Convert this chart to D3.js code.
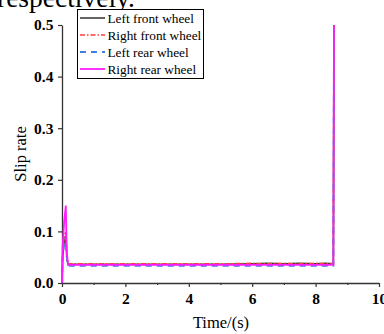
<!DOCTYPE html>
<html>
<head>
<meta charset="utf-8">
<script src="https://cdn.jsdelivr.net/npm/d3@7"></script>
<style>
  body { margin: 0; background: #fff; }
  svg { display: block; font-family: "Liberation Serif", "Times New Roman", serif; }
</style>
</head>
<body>
<div id="chart"></div>
<script>
// time samples (s) shared by all four wheels
const times = [0, 0.02, 0.07, 0.12, 0.15, 0.19, 0.5, 1, 2, 3, 4, 5, 6, 6.5, 7, 7.5, 8, 8.3, 8.56, 8.58];
const leftFront  = [0, 0.05, 0.08, 0.09, 0.05, 0.036, 0.036, 0.036, 0.036, 0.036, 0.036, 0.036, 0.037, 0.038, 0.037, 0.038, 0.037, 0.038, 0.037, 0.5];
const rightFront = [0, 0.06, 0.09, 0.10, 0.06, 0.037, 0.037, 0.037, 0.037, 0.037, 0.037, 0.037, 0.038, 0.037, 0.038, 0.037, 0.038, 0.037, 0.038, 0.5];
const leftRear   = [0, 0.05, 0.08, 0.09, 0.05, 0.033, 0.033, 0.033, 0.033, 0.033, 0.033, 0.033, 0.033, 0.033, 0.033, 0.033, 0.033, 0.033, 0.033, 0.5];
const rightRear  = [0, 0.07, 0.12, 0.15, 0.06, 0.035, 0.035, 0.035, 0.035, 0.035, 0.035, 0.035, 0.035, 0.035, 0.035, 0.035, 0.035, 0.035, 0.035, 0.5];

const seriesNames = ["Left front wheel", "Right front wheel", "Left rear wheel", "Right rear wheel"];
const xTicks = [0, 2, 4, 6, 8, 10];
const xMinorTicks = [1, 3, 5, 7, 9];
const yTicks = [0, 0.1, 0.2, 0.3, 0.4, 0.5];

const styles = [
    {color: '#3d3d3d', dash: null, width: 1.6},
    {color: '#ff3b3b', dash: '5,2,1.5,2', width: 1.6},
    {color: '#3f7fe6', dash: '6,5', width: 1.8},
    {color: '#ff1cff', dash: null, width: 1.8},
];

const width = 384, height = 334;
const svg = d3.select("#chart").append("svg")
    .attr("width", width)
    .attr("height", height);

// piece of the surrounding paper text, cut at the top
svg.append("text")
    .attr("x", -3)
    .attr("y", 7)
    .style("font-size", "27.5px")
    .text("respectively.");

const x = d3.scaleLinear().domain([0, 10]).range([62, 379]);
const y = d3.scaleLinear().domain([0, 0.5]).range([283, 25]);

// axes
const xAxis = svg.append("g")
    .attr("transform", "translate(0," + y(0) + ")")
    .call(d3.axisBottom(x).tickValues(xTicks).tickFormat(d3.format("d")).tickSize(4).tickSizeOuter(0));
xAxis.selectAll(".tick text").attr("dy", "0.9em");

svg.append("g")
    .attr("transform", "translate(0," + y(0) + ")")
    .call(d3.axisBottom(x).tickValues(xMinorTicks).tickFormat("").tickSize(2).tickSizeOuter(0))
    .select(".domain").remove();

const yAxis = svg.append("g")
    .attr("transform", "translate(" + x(0) + ",0)")
    .call(d3.axisLeft(y).tickValues(yTicks).tickFormat(d3.format(".1f")).tickSize(4).tickSizeOuter(0));
yAxis.selectAll(".tick text").attr("dx", "-0.1em");

svg.selectAll(".domain").attr("stroke", "#333").attr("stroke-width", 1.3);
svg.selectAll(".tick line").attr("stroke", "#333").attr("stroke-width", 1.2);
svg.selectAll(".tick text")
    .style("font-family", '"Liberation Serif", serif')
    .style("font-size", "15.5px")
    .style("font-weight", "bold")
    .attr("fill", "#000");

// axis titles
svg.append("text")
    .attr("x", 221)
    .attr("y", 328)
    .attr("text-anchor", "middle")
    .style("font-size", "16.5px")
    .text("Time/(s)");

svg.append("text")
    .attr("transform", "translate(26," + y(0.25) + ") rotate(-90)")
    .attr("text-anchor", "middle")
    .style("font-size", "16.5px")
    .text("Slip rate");

// lines
const allSeries = [leftFront, rightFront, leftRear, rightRear];
const line = d3.line()
    .x((d, i) => x(times[i]))
    .y(d => y(d));

svg.append("g")
    .selectAll("path")
    .data(allSeries)
    .enter()
    .append("path")
    .attr("d", d => line(d))
    .attr("fill", "none")
    .attr("stroke", (d, i) => styles[i].color)
    .attr("stroke-width", (d, i) => styles[i].width)
    .attr("stroke-dasharray", (d, i) => styles[i].dash);

// legend
const legend = svg.append("g");
legend.append("rect")
    .attr("x", 77.5)
    .attr("y", 9.5)
    .attr("width", 126)
    .attr("height", 69)
    .attr("fill", "#fff")
    .attr("stroke", "#000")
    .attr("stroke-width", 1);

const rows = legend.selectAll("g.row")
    .data(seriesNames)
    .enter()
    .append("g")
    .attr("class", "row")
    .attr("transform", (d, i) => "translate(0," + (18 + i * 17) + ")");

rows.append("line")
    .attr("x1", 80).attr("x2", 105)
    .attr("y1", 0).attr("y2", 0)
    .attr("stroke", (d, i) => styles[i].color)
    .attr("stroke-width", (d, i) => styles[i].width)
    .attr("stroke-dasharray", (d, i) => styles[i].dash);

rows.append("text")
    .attr("x", 107.5)
    .attr("y", 0)
    .attr("dy", "0.35em")
    .style("font-size", "13.3px")
    .text(d => d);
</script>
</body>
</html>
